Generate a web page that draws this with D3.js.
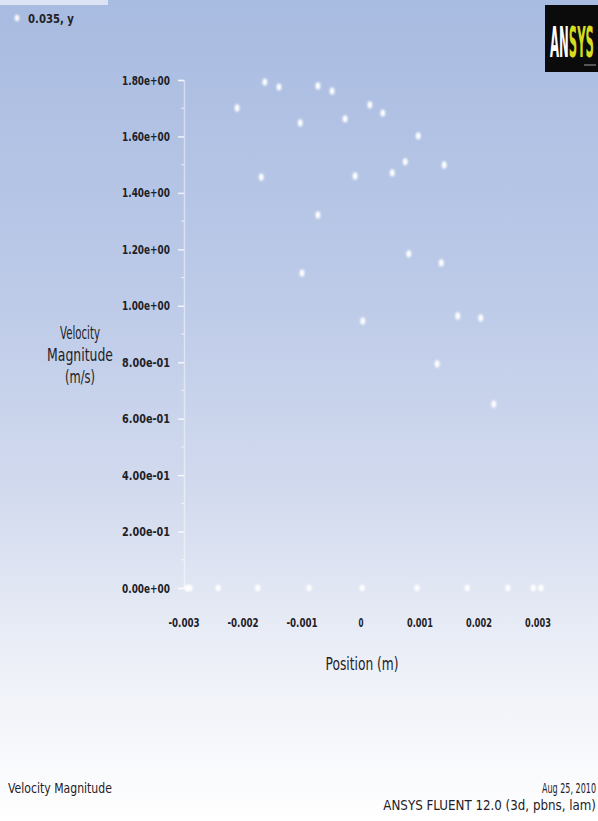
<!DOCTYPE html>
<html>
<head>
<meta charset="utf-8">
<script src="https://cdn.jsdelivr.net/npm/d3@7"></script>
<style>
  html, body { margin: 0; padding: 0; background: #fff; }
  svg { display: block; }
  text { font-family: "DejaVu Sans", "Liberation Sans", sans-serif; fill: #1e2126; }
</style>
</head>
<body>
<svg id="chart" width="598" height="821"></svg>
<script>
// Velocity magnitude sampled along the line, position in metres
const posX = [
  -0.00163, -0.00139, -0.00073, -0.00049, -0.00210, 0.00015, 0.00037, -0.00103,
  -0.00027, 0.00097, 0.00141, 0.00075, 0.00053, -0.00010, -0.00169, -0.00073,
  0.00081, 0.00136, -0.00100, 0.00003, 0.00164, 0.00203, 0.00129, 0.00225
];
const velMag = [
  1.793, 1.775, 1.779, 1.761, 1.701, 1.712, 1.683, 1.648,
  1.662, 1.602, 1.499, 1.510, 1.471, 1.460, 1.456, 1.322,
  1.184, 1.152, 1.116, 0.946, 0.964, 0.957, 0.794, 0.652
];
// Wall / stagnant points lying on zero velocity
const wallX = [-0.00295, -0.00290, -0.00242, -0.00175, -0.00088, 0.00002, 0.00095, 0.00180, 0.00249, 0.00292, 0.00305];
const wallV = [0, 0, 0, 0, 0, 0, 0, 0, 0, 0, 0];

const yTicks = [0, 0.2, 0.4, 0.6, 0.8, 1.0, 1.2, 1.4, 1.6, 1.8];
const yMinorTicks = [0.1, 0.3, 0.5, 0.7, 0.9, 1.1, 1.3, 1.5, 1.7];
const xTicks = [-0.003, -0.002, -0.001, 0, 0.001, 0.002, 0.003];
const xTickLabels = ["-0.003", "-0.002", "-0.001", "0", "0.001", "0.002", "0.003"];

const seriesName = "0.035, y";
const yTitle = ["Velocity", "Magnitude", "(m/s)"];
const xTitle = "Position (m)";
const footLeft = "Velocity Magnitude";
const footRight = ["Aug 25, 2010", "ANSYS FLUENT 12.0 (3d, pbns, lam)"];

const svg = d3.select("#chart");
const W = 598, H = 821;

// narrow plot font: draw text at the origin, then scale it horizontally to width w
function narrow(parent, str, px, py, size, anchor, w, opts = {}) {
  const t = parent.append("text").attr("x", 0).attr("y", 0)
    .attr("text-anchor", anchor).attr("font-size", size).text(str);
  if (opts.weight) t.attr("font-weight", opts.weight);
  if (opts.fill) t.style("fill", opts.fill);
  const len = t.node().getComputedTextLength();
  const sx = w / len;
  t.attr("transform", `translate(${px},${py}) scale(${sx},1)`);
  return t;
}

// background gradient
const defs = svg.append("defs");
const grad = defs.append("linearGradient").attr("id", "bg").attr("x1", 0).attr("y1", 0).attr("x2", 0).attr("y2", 1);
grad.append("stop").attr("offset", "0").attr("stop-color", "#a8bbe0");
grad.append("stop").attr("offset", "0.35").attr("stop-color", "#bccae8");
grad.append("stop").attr("offset", "0.6").attr("stop-color", "#d2daee");
grad.append("stop").attr("offset", "0.8").attr("stop-color", "#eceff7");
grad.append("stop").attr("offset", "1").attr("stop-color", "#ffffff");
const glow = defs.append("filter").attr("id", "glow").attr("x", "-100%").attr("y", "-100%").attr("width", "300%").attr("height", "300%");
glow.append("feGaussianBlur").attr("stdDeviation", 0.9);

svg.append("rect").attr("width", W).attr("height", H).attr("fill", "url(#bg)");
svg.append("rect").attr("x", 0).attr("y", 0).attr("width", 108).attr("height", 5).attr("fill", "#ffffff").attr("opacity", 0.6);

const x = d3.scaleLinear().domain([-0.003, 0.003]).range([184, 538]);
const y = d3.scaleLinear().domain([0, 1.8]).range([588, 80]);

function fmtE(v) {
  if (v === 0) return "0.00e+00";
  const e = Math.floor(Math.log10(Math.abs(v)) + 1e-9);
  const m = v / Math.pow(10, e);
  const s = e < 0 ? "-" : "+";
  return m.toFixed(2) + "e" + s + String(Math.abs(e)).padStart(2, "0");
}

// y axis: ticks from the axis generator, labels set in the narrow font
const yAxis = svg.append("g").attr("transform", "translate(184,0)")
  .call(d3.axisLeft(y).tickValues(yTicks).tickFormat("").tickSize(6));
yAxis.select(".domain").attr("stroke", "#ffffff").attr("stroke-opacity", 0.45).attr("stroke-width", 1.5);
yAxis.selectAll(".tick line").attr("stroke", "#ffffff").attr("stroke-opacity", 0.8).attr("stroke-width", 1.5);
yAxis.append("g").selectAll("line").data(yMinorTicks).join("line")
  .attr("x1", -3).attr("x2", 0).attr("y1", d => y(d)).attr("y2", d => y(d))
  .attr("stroke", "#ffffff").attr("stroke-opacity", 0.6).attr("stroke-width", 1.2);
const yLab = svg.append("g");
yTicks.forEach(v => narrow(yLab, fmtE(v), 170, y(v) + 4.5, 12, "end", 48, { weight: "bold" }));

// x axis labels
const xLab = svg.append("g");
xTicks.forEach((v, i) => {
  const s = xTickLabels[i];
  narrow(xLab, s, x(v), 627, 12, "middle", s.length > 1 ? s.length * 5.2 : 5, { weight: "bold" });
});

// axis titles
const yTitleW = [40, 66, 30];
yTitle.forEach((s, i) => narrow(svg, s, 80, 339 + i * 22, 18, "middle", yTitleW[i]));
narrow(svg, xTitle, 362, 670, 18, "middle", 73);

// zero velocity trace
const zeroLine = d3.line().x((d, i) => x(wallX[i])).y((d, i) => y(wallV[i]));
svg.append("path").datum(wallX).attr("d", zeroLine)
  .attr("fill", "none").attr("stroke", "#ffffff").attr("stroke-opacity", 0.85).attr("stroke-width", 2).attr("filter", "url(#glow)");
svg.append("g").selectAll("ellipse").data(wallX).join("ellipse")
  .attr("cx", d => x(d)).attr("cy", (d, i) => y(wallV[i]))
  .attr("rx", 2.6).attr("ry", 3.2).attr("fill", "#ffffff").attr("filter", "url(#glow)");

// velocity samples
svg.append("g").selectAll("ellipse").data(posX).join("ellipse")
  .attr("cx", d => x(d)).attr("cy", (d, i) => y(velMag[i]))
  .attr("rx", 2.4).attr("ry", 3.6).attr("fill", "#ffffff").attr("filter", "url(#glow)");

// legend
svg.append("ellipse").attr("cx", 17).attr("cy", 18).attr("rx", 2.2).attr("ry", 3.2).attr("fill", "#ffffff").attr("filter", "url(#glow)");
narrow(svg, seriesName, 28, 23, 12, "start", 46, { weight: "bold" });

// logo
const logo = svg.append("g");
logo.append("rect").attr("x", 545).attr("y", 5).attr("width", 53).attr("height", 67).attr("fill", "#0b0b0b");
const lt = logo.append("text").attr("x", 0).attr("y", 0).attr("font-size", 42).attr("font-weight", "bold");
lt.append("tspan").style("fill", "#ffffff").text("AN");
lt.append("tspan").style("fill", "#d6dc1e").text("SYS");
const ltLen = lt.node().getComputedTextLength();
lt.attr("transform", `translate(550,57) scale(${44 / ltLen},1)`);
logo.append("rect").attr("x", 584).attr("y", 64).attr("width", 12).attr("height", 2).attr("fill", "#555");

// footer
narrow(svg, footLeft, 8, 793, 14, "start", 104);
const fw = [54, 213];
footRight.forEach((s, i) => narrow(svg, s, 596, 793 + i * 17, 14, "end", fw[i]));
</script>
</body>
</html>
